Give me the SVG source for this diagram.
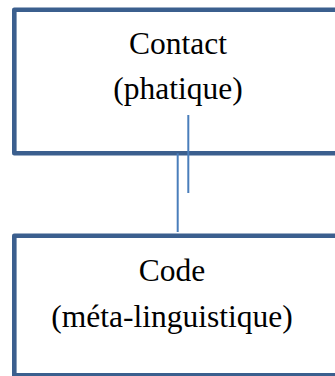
<svg xmlns="http://www.w3.org/2000/svg" width="335" height="376" viewBox="0 0 335 376">
<style>
.box{fill:#ffffff;stroke:#3B5F8E;stroke-width:4.6;stroke-linejoin:round}
.lbl{font-family:"Liberation Serif","Times New Roman",serif;font-size:31.5px;fill:#000000;text-anchor:middle}
.conn{stroke:#4A7EBB;stroke-width:2;fill:none}
</style>
<g id="contact">
<rect class="box" x="14.3" y="9.8" width="340" height="143.5"/>
<text class="lbl" x="178" y="53.5">Contact</text>
<text class="lbl" x="178" y="99">(phatique)</text>
</g>
<g id="code">
<rect class="box" x="14.3" y="235.8" width="340" height="139.5"/>
<text class="lbl" x="172" y="280.5">Code</text>
<text class="lbl" x="172" y="326.5">(méta-linguistique)</text>
</g>
<g id="connectors">
<line class="conn" x1="188.3" y1="115" x2="188.3" y2="193"/>
<line class="conn" x1="177.7" y1="153.3" x2="177.7" y2="232"/>
</g>
</svg>
